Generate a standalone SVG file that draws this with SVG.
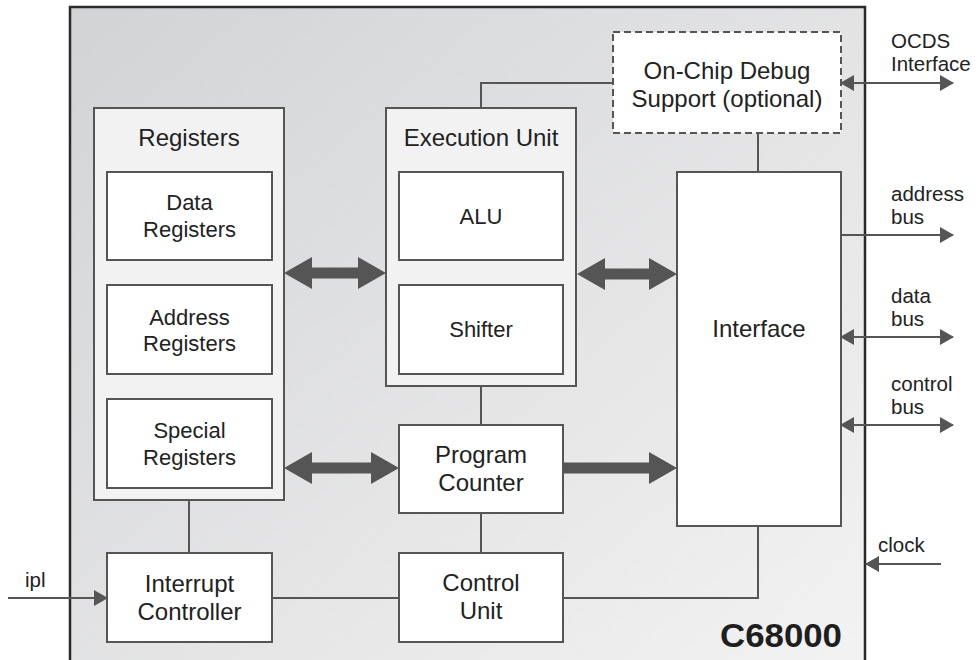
<svg xmlns="http://www.w3.org/2000/svg" width="979" height="660" viewBox="0 0 979 660">
<defs>
<linearGradient id="chipbg" x1="0" y1="0" x2="1" y2="1">
<stop offset="0" stop-color="#d2d3d5"/>
<stop offset="1" stop-color="#f3f3f3"/>
</linearGradient>
<marker id="ah" viewBox="0 0 14 16" refX="13" refY="8" markerWidth="14" markerHeight="16" markerUnits="userSpaceOnUse" orient="auto-start-reverse">
<path d="M0,0 L14,8 L0,16 z" fill="#555"/>
</marker>
<style>
.box{fill:#fff;stroke:#555;stroke-width:2}
.group{fill:#f2f2f2;stroke:#555;stroke-width:2}
.dash{fill:#fff;stroke:#555;stroke-width:2;stroke-dasharray:7 4}
.t{font-family:"Liberation Sans",Arial,sans-serif;font-size:24px;fill:#222;text-anchor:middle}
.ti{font-family:"Liberation Sans",Arial,sans-serif;font-size:22px;fill:#222;text-anchor:middle}
.lbl{font-family:"Liberation Sans",Arial,sans-serif;font-size:20.5px;fill:#222}
.ln{fill:none;stroke:#555;stroke-width:2}
.sig{fill:none;stroke:#555;stroke-width:2}
.fat{fill:#555}
</style>
</defs>
<rect width="979" height="660" fill="#fff"/>
<g id="chip">
<rect x="70" y="7" width="795" height="680" fill="url(#chipbg)" stroke="#2a2a2a" stroke-width="2.5"/>
<text x="842" y="647" font-family="'Liberation Sans',Arial,sans-serif" font-size="33" font-weight="bold" fill="#1e1e1e" text-anchor="end" textLength="122" lengthAdjust="spacingAndGlyphs">C68000</text>
</g>
<g id="connectors">
<polyline class="ln" points="481,108 481,83 613,83"/>
<line class="ln" x1="758" y1="133" x2="758" y2="172"/>
<line class="ln" x1="189" y1="500" x2="189" y2="553"/>
<line class="ln" x1="481" y1="386" x2="481" y2="425"/>
<line class="ln" x1="481" y1="513" x2="481" y2="553"/>
<line class="ln" x1="272" y1="598" x2="399" y2="598"/>
<polyline class="ln" points="563,598 758,598 758,526"/>
<polygon class="fat" points="284,273 312,257 312,267.5 358,267.5 358,257 386,273 358,289 358,278.5 312,278.5 312,289"/>
<polygon class="fat" points="577,274 605,258 605,268.5 649,268.5 649,258 677,274 649,290 649,279.5 605,279.5 605,290"/>
<polygon class="fat" points="284,468 312,452 312,462.5 371,462.5 371,452 399,468 371,484 371,473.5 312,473.5 312,484"/>
<polygon class="fat" points="563,462.5 649,462.5 649,452 677,468 649,484 649,473.5 563,473.5"/>
<line class="sig" x1="841" y1="83" x2="953" y2="83" marker-start="url(#ah)" marker-end="url(#ah)"/>
<line class="sig" x1="841" y1="235" x2="953" y2="235" marker-end="url(#ah)"/>
<line class="sig" x1="841" y1="337" x2="953" y2="337" marker-start="url(#ah)" marker-end="url(#ah)"/>
<line class="sig" x1="841" y1="425" x2="953" y2="425" marker-start="url(#ah)" marker-end="url(#ah)"/>
<line class="sig" x1="941" y1="564" x2="866" y2="564" marker-end="url(#ah)"/>
<line class="sig" x1="8" y1="598" x2="107" y2="598" marker-end="url(#ah)"/>
</g>
<g id="registers">
<rect class="group" x="94" y="108" width="190" height="392"/>
<text class="t" x="189" y="146">Registers</text>
</g>
<g id="data-registers">
<rect class="box" x="107" y="172" width="165" height="88"/>
<text class="ti" x="189.5" y="210">Data</text>
<text class="ti" x="189.5" y="237">Registers</text>
</g>
<g id="address-registers">
<rect class="box" x="107" y="285" width="165" height="89"/>
<text class="ti" x="189.5" y="325">Address</text>
<text class="ti" x="189.5" y="351">Registers</text>
</g>
<g id="special-registers">
<rect class="box" x="107" y="399" width="165" height="89"/>
<text class="ti" x="189.5" y="438">Special</text>
<text class="ti" x="189.5" y="465">Registers</text>
</g>
<g id="execution-unit">
<rect class="group" x="386" y="108" width="190" height="278"/>
<text class="t" x="481" y="146">Execution Unit</text>
</g>
<g id="alu">
<rect class="box" x="399" y="172" width="164" height="88"/>
<text class="ti" x="481" y="224">ALU</text>
</g>
<g id="shifter">
<rect class="box" x="399" y="285" width="164" height="89"/>
<text class="ti" x="481" y="337">Shifter</text>
</g>
<g id="program-counter">
<rect class="box" x="399" y="425" width="164" height="88"/>
<text class="t" x="481" y="463">Program</text>
<text class="t" x="481" y="491">Counter</text>
</g>
<g id="control-unit">
<rect class="box" x="399" y="553" width="164" height="89"/>
<text class="t" x="481" y="591">Control</text>
<text class="t" x="481" y="619">Unit</text>
</g>
<g id="interrupt-controller">
<rect class="box" x="107" y="553" width="165" height="89"/>
<text class="t" x="189.5" y="592">Interrupt</text>
<text class="t" x="189.5" y="620">Controller</text>
</g>
<g id="interface">
<rect class="box" x="677" y="172" width="164" height="354"/>
<text class="t" x="759" y="337">Interface</text>
</g>
<g id="ocds">
<rect class="dash" x="613" y="32" width="228" height="101"/>
<text class="t" x="727" y="79">On-Chip Debug</text>
<text class="t" x="727" y="107">Support (optional)</text>
</g>
<g id="labels">
<text class="lbl" x="891" y="48">OCDS</text>
<text class="lbl" x="891" y="71">Interface</text>
<text class="lbl" x="891" y="201">address</text>
<text class="lbl" x="891" y="224">bus</text>
<text class="lbl" x="891" y="303">data</text>
<text class="lbl" x="891" y="326">bus</text>
<text class="lbl" x="891" y="391">control</text>
<text class="lbl" x="891" y="414">bus</text>
<text class="lbl" x="878" y="552">clock</text>
<text class="lbl" x="25" y="587">ipl</text>
</g>
</svg>
